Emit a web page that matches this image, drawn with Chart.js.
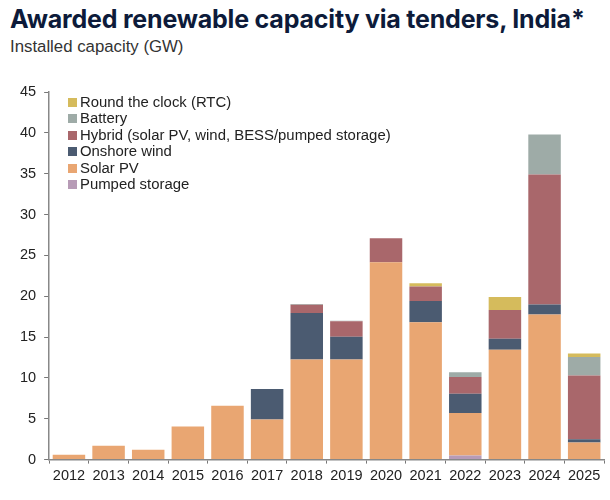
<!DOCTYPE html>
<html>
<head>
<meta charset="utf-8">
<script src="https://cdn.jsdelivr.net/npm/chart.js@4.4.1/dist/chart.umd.min.js"></script>
<style>
  html, body { margin:0; padding:0; background:#fff; }
  #wrap { position:relative; width:610px; height:500px; overflow:hidden; }
  #title { position:absolute; left:10px; top:4px; font-family:Inter, "Liberation Sans", sans-serif; font-weight:700; font-size:25px; color:#0d1b3a; letter-spacing:-0.2px; white-space:nowrap; }
  #subtitle { position:absolute; left:10px; top:37px; font-family:"Liberation Sans", Arial, sans-serif; font-size:16.8px; color:#333; white-space:nowrap; }
  #legend { position:absolute; left:68px; top:94px; font-family:"Liberation Sans", Arial, sans-serif; font-size:14.9px; color:#222; line-height:16.4px; }
  #legend div { white-space:nowrap; }
  #legend span.box { display:inline-block; width:9px; height:9px; margin-right:3px; vertical-align:0px; }
  #c { position:absolute; left:0; top:60px; }
</style>
</head>
<body>
<div id="wrap">
  <div id="title">Awarded renewable capacity via tenders, India*</div>
  <div id="subtitle">Installed capacity (GW)</div>
  <canvas id="c" width="610" height="440"></canvas>
  <div id="legend"></div>
</div>
<script>
const years = ["2012","2013","2014","2015","2016","2017","2018","2019","2020","2021","2022","2023","2024","2025"];
const pumpedStorage = [0,0,0,0,0,0,0,0,0,0,0.5,0,0,0];
const solarPV       = [0.6,1.7,1.2,4.05,6.6,4.9,12.25,12.25,24.15,16.8,5.2,13.45,17.75,2.1];
const onshoreWind   = [0,0,0,0,0,3.75,5.7,2.8,0,2.6,2.35,1.35,1.25,0.4];
const hybrid        = [0,0,0,0,0,0,1.0,1.9,2.95,1.8,2.05,3.5,15.9,7.8];
const battery       = [0,0,0,0,0,0,0.1,0.05,0,0,0.6,0,4.9,2.25];
const rtc           = [0,0,0,0,0,0,0,0,0,0.4,0,1.6,0,0.45];
const yTicks = [0,5,10,15,20,25,30,35,40,45];

const seriesNames = ["Pumped storage","Solar PV","Onshore wind","Hybrid (solar PV, wind, BESS/pumped storage)","Battery","Round the clock (RTC)"];
const seriesData = [pumpedStorage, solarPV, onshoreWind, hybrid, battery, rtc];
const seriesColors = ["#b79bb6","#e9a672","#4b5b71","#a9676b","#9eaba7","#d5bb5c"];

const datasets = seriesNames.map((n,i)=>({
  label:n, data:seriesData[i], backgroundColor:seriesColors[i],
  borderWidth:0, barPercentage:0.82, categoryPercentage:1.0
}));

const leg = document.getElementById('legend');
for (let i = seriesNames.length-1; i >= 0; i--) {
  const d = document.createElement('div');
  d.innerHTML = '<span class="box" style="background:'+seriesColors[i]+'"></span>'+seriesNames[i];
  leg.appendChild(d);
}

new Chart(document.getElementById('c'), {
  type:'bar',
  data:{ labels:years, datasets:datasets },
  options:{
    responsive:false, animation:false,
    layout:{ padding:{ top:32, right:6, left:12, bottom:11 } },
    plugins:{ legend:{display:false}, tooltip:{enabled:false}, title:{display:false} },
    scales:{
      x:{ stacked:true,
        grid:{ display:true, drawOnChartArea:false, drawTicks:true, tickLength:4, color:'#777', offset:true },
        border:{ display:true, color:'#888', width:1.5 },
        ticks:{ color:'#222', font:{ family:'"Liberation Sans", Arial, sans-serif', size:14.5 }, padding:4, maxRotation:0, autoSkip:false }
      },
      y:{ stacked:true, min:0, max:45,
        afterBuildTicks:(ax)=>{ ax.ticks = yTicks.map(v=>({value:v})); },
        grid:{ display:true, drawOnChartArea:false, drawTicks:true, tickLength:5, color:'#777' },
        border:{ display:true, color:'#888', width:1.5 },
        ticks:{ color:'#222', font:{ family:'"Liberation Sans", Arial, sans-serif', size:14.5 }, padding:8 }
      }
    }
  }
});
</script>
</body>
</html>
